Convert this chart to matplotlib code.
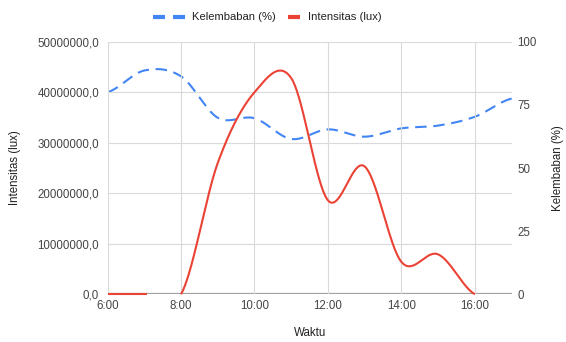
import numpy as np
import matplotlib
matplotlib.use("Agg")
import matplotlib.pyplot as plt
from matplotlib.lines import Line2D

plt.rcParams['font.family'] = ['Liberation Sans', 'DejaVu Sans']

# data (hours of day)
hours = [6, 7, 8, 9, 10, 11, 12, 13, 14, 15, 16, 17]
kelembaban = [80.0, 88.6, 86.3, 69.9, 69.7, 61.5, 65.3, 62.4, 65.7, 66.8, 70.3, 77.5]

# intensitas: first short segment, then gap, then the day curve
red_hours_a = [6, 7.07]
intensitas_a = [0, 0]
red_hours_b = [8, 9, 10, 11, 12, 13, 14, 15, 16]
intensitas_b = [0, 26.0e6, 40.0e6, 42.8e6, 18.6e6, 25.3e6, 6.4e6, 7.9e6, 0]

xtick_pos = [6, 8, 10, 12, 14, 16]
xtick_lbl = ['6:00', '8:00', '10:00', '12:00', '14:00', '16:00']
left_ticks = [0, 10e6, 20e6, 30e6, 40e6, 50e6]
right_ticks = [0, 25, 50, 75, 100]
legend_labels = ['Kelembaban (%)', 'Intensitas (lux)']

BLUE = '#4285F4'
RED = '#EA4335'
W, H = 566, 342


def smooth(xs, ys, n=40):
    # cubic hermite through the points (like a "function" curve)
    xs = np.asarray(xs, float)
    ys = np.asarray(ys, float)
    m = np.zeros_like(ys)
    if len(ys) > 2:
        m[1:-1] = (ys[2:] - ys[:-2]) / (xs[2:] - xs[:-2])
    m[0] = (ys[1] - ys[0]) / (xs[1] - xs[0]) / 2
    m[-1] = (ys[-1] - ys[-2]) / (xs[-1] - xs[-2]) / 2
    ox, oy = [], []
    for i in range(len(xs) - 1):
        h = xs[i + 1] - xs[i]
        t = np.linspace(0, 1, n)
        h00 = 2 * t**3 - 3 * t**2 + 1
        h10 = t**3 - 2 * t**2 + t
        h01 = -2 * t**3 + 3 * t**2
        h11 = t**3 - t**2
        ox.extend(xs[i] + t * h)
        oy.extend(h00 * ys[i] + h10 * h * m[i] + h01 * ys[i + 1] + h11 * h * m[i + 1])
    return np.array(ox), np.array(oy)


def px(x, y):
    return x / W, 1 - y / H


fig = plt.figure(figsize=(W / 100, H / 100), dpi=100)
ax = fig.add_axes([0.19, 0.1395, 0.714, 0.7385])
ax2 = ax.twinx()

# red on the left axis, drawn above the blue one
ax.set_zorder(ax2.get_zorder() + 1)
ax.patch.set_visible(False)

x, y = smooth(red_hours_a, intensitas_a)
ax.plot(x, y, color=RED, lw=1.5, solid_capstyle='butt', clip_on=False)
x, y = smooth(red_hours_b, intensitas_b)
ax.plot(x, y, color=RED, lw=1.5, solid_capstyle='butt', clip_on=False)

x, y = smooth(hours, kelembaban)
ax2.plot(x, y, color=BLUE, lw=1.5, linestyle=(0, (5.5, 3.2)), dash_capstyle='butt')

ax.set_xlim(6, 17)
ax.set_ylim(0, 50e6)
ax2.set_ylim(0, 100)

ax.set_xticks(xtick_pos)
ax.set_xticklabels(xtick_lbl)
ax.set_yticks(left_ticks)
ax.set_yticklabels([f"{v:.1f}".replace('.', ',') for v in left_ticks])
ax2.set_yticks(right_ticks)

ax.grid(True, color='#dadada', lw=0.8)
ax.set_axisbelow(True)
for a in (ax, ax2):
    for s in a.spines.values():
        s.set_visible(False)
ax.axhline(0, color='#9e9e9e', lw=1.6, zorder=0.5)

ax.tick_params(axis='both', length=0, labelsize=8.3, colors='#444444')
ax.tick_params(axis='y', pad=6)
ax.tick_params(axis='x', pad=4)
ax2.tick_params(axis='y', length=0, labelsize=8.3, colors='#444444', pad=4)

ax.set_xlabel('Waktu', fontsize=8.3, color='#222222')
ax.xaxis.set_label_coords(0.5, -0.13)
ax.set_ylabel('Intensitas (lux)', fontsize=8.3, color='#222222')
ax.yaxis.set_label_coords(-0.213, 0.5)
ax2.set_ylabel('Kelembaban (%)', fontsize=8.3, color='#222222', rotation=90)
ax2.yaxis.label.set_va('top')
ax2.yaxis.set_label_coords(1.1, 0.5)

# legend drawn by hand: short thick handles like the original
ly = 17
for x0, x1 in [(153, 165), (173, 185)]:
    fig.add_artist(Line2D(*zip(px(x0, ly), px(x1, ly)), color=BLUE, lw=3,
                          solid_capstyle='butt', transform=fig.transFigure))
fig.text(*px(192.5, ly), legend_labels[0], fontsize=8.1, color='#222222',
         ha='left', va='center')
fig.add_artist(Line2D(*zip(px(288, ly), px(300, ly)), color=RED, lw=3,
                      solid_capstyle='butt', transform=fig.transFigure))
fig.text(*px(307.5, ly), legend_labels[1], fontsize=8.1, color='#222222',
         ha='left', va='center')

fig.savefig('out.png', dpi=100)
